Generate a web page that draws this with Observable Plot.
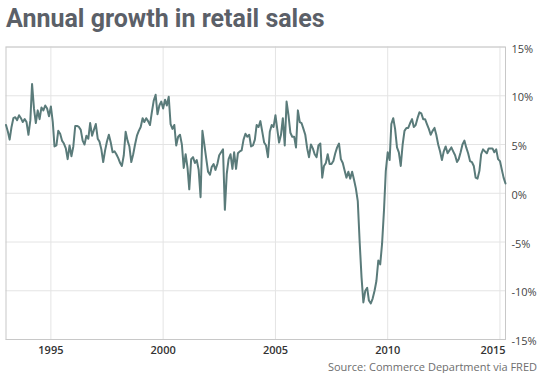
<!DOCTYPE html>
<html><head><meta charset="utf-8">
<script src="https://cdn.jsdelivr.net/npm/d3@7"></script>
<script src="https://cdn.jsdelivr.net/npm/@observablehq/plot@0.6"></script>
<style>
body{margin:0;background:#fff;width:550px;height:373px;overflow:hidden;font-family:"Open Sans",sans-serif}
#title{height:38px;line-height:38px;font-family:Roboto,sans-serif;font-weight:700;font-size:25px;color:#5b6068;padding-left:6px;white-space:nowrap}
#chart svg{display:block}
#caption{height:13px;line-height:13px;font-size:11px;color:#6e6e6e;text-align:right;padding-right:13px;white-space:nowrap}
</style></head><body>
<div id="title">Annual growth in retail sales</div>
<div id="chart"></div>
<div id="caption">Source: Commerce Department via FRED</div>
<script>
// Monthly year-over-year growth (%), starting January 1993
const startYear = 1993;
const growth1993to2000 = [
  7.0, 6.3, 5.5, 6.8, 7.7, 7.8, 7.5, 8.0, 7.7, 7.3, 7.6, 7.3,
  6.0, 7.5, 11.2, 8.7, 7.2, 8.5, 7.6, 8.8, 8.5, 9.0, 8.7, 7.9,
  8.9, 7.3, 4.8, 4.9, 6.4, 6.1, 5.4, 5.1, 4.6, 3.5, 4.9, 3.8,
  4.8, 6.9, 6.9, 6.8, 6.5, 5.4, 5.0, 5.9, 5.6, 7.2, 5.9, 6.5,
  7.1, 5.6, 5.3, 4.5, 3.2, 4.4, 5.3, 6.0, 5.2, 4.2, 4.3, 4.0,
  3.6, 3.1, 2.8, 3.9, 6.3, 5.4, 4.8, 3.2, 4.0, 5.0, 5.9, 6.4,
  6.8, 7.7, 7.3, 7.7, 7.4, 7.0, 8.3, 9.5, 10.1, 8.1, 9.0, 9.4,
  8.7, 9.6, 9.0, 9.9, 7.1, 6.6, 7.0, 4.9, 5.8, 6.0, 5.0, 2.6
];
const growth2001to2008 = [
  4.0, 2.6, 0.4, 3.5, 3.7, 3.1, 3.4, 2.4, -0.4, 6.4, 5.0, 3.6,
  2.2, 1.9, 2.7, 3.0, 2.4, 3.0, 3.9, 4.2, 4.5, -1.7, 2.0, 3.5,
  4.0, 2.5, 4.2, 2.5, 4.1, 4.3, 4.4, 5.5, 6.1, 5.8, 6.0, 4.8,
  4.9, 5.5, 7.0, 6.8, 7.4, 6.3, 5.2, 4.9, 3.7, 6.3, 7.0, 6.8,
  8.0, 6.5, 5.2, 6.0, 7.7, 4.9, 9.4, 8.0, 6.2, 5.8, 5.8, 4.7,
  8.5, 7.3, 7.2, 6.6, 6.0, 4.6, 3.7, 5.0, 4.6, 4.0, 3.7, 4.9,
  5.1, 1.6, 2.8, 3.1, 4.0, 3.0, 3.0, 3.3, 4.1, 4.7, 5.1, 3.5,
  3.1, 2.3, 1.6, 2.2, 1.5, 2.2, 1.4, 0.5, -0.8, -4.9, -8.6, -11.2
];
const growth2009to2015 = [
  -10.0, -9.7, -11.0, -11.3, -10.8, -10.0, -9.0, -6.9, -7.3, -5.2, -1.8, 2.3,
  4.2, 3.4, 7.1, 7.7, 6.6, 4.7, 4.2, 2.8, 5.0, 6.4, 6.7, 6.7,
  7.2, 7.6, 6.8, 7.0, 7.7, 8.3, 8.2, 7.6, 7.6, 7.1, 6.6, 6.0,
  6.4, 6.7, 6.0, 5.0, 4.3, 3.4, 4.3, 4.8, 4.1, 4.4, 4.7, 4.3,
  3.9, 3.2, 3.5, 4.2, 5.0, 5.4, 4.7, 4.1, 3.3, 3.2, 2.8, 1.6,
  1.5, 2.3, 4.0, 4.5, 4.3, 4.1, 4.6, 4.6, 4.6, 4.2, 4.5, 3.5,
  3.3, 2.4, 1.6, 1.0
];
const xTickYears = [1995, 2000, 2005, 2010, 2015];
const yTicks = [-15, -10, -5, 0, 5, 10, 15];

const values = [...growth1993to2000, ...growth2001to2008, ...growth2009to2015];
const data = values.map((v, i) => ({date: new Date(Date.UTC(startYear, i, 1)), value: v}));
const xTicks = xTickYears.map(y => new Date(Date.UTC(y, 0, 1)));

const chart = Plot.plot({
  width: 550,
  height: 322,
  marginTop: 8.5,
  marginBottom: 21,
  marginLeft: 5.5,
  marginRight: 45,
  style: {fontFamily: "'Open Sans', sans-serif", fontSize: "11px", background: "#fff"},
  x: {type: "utc", domain: [data[0].date, data[data.length - 1].date], label: null},
  y: {domain: [-15, 15], label: null},
  marks: [
    Plot.ruleY(yTicks, {stroke: "#e4e4e4", strokeWidth: 1}),
    Plot.ruleX(xTicks, {stroke: "#e4e4e4", strokeWidth: 1}),
    Plot.frame({stroke: "#c8c8c8"}),
    Plot.line(data, {x: "date", y: "value", stroke: "#5a7b7a", strokeWidth: 2, curve: "linear"}),
    Plot.axisY(yTicks, {anchor: "right", tickSize: 0, tickPadding: 6, dy: 2,
      tickFormat: d => d + "%", fill: "#444", fontSize: 11}),
    Plot.axisX(xTicks.slice(0, 4), {anchor: "bottom", tickSize: 0, tickPadding: 7,
      tickFormat: d3.utcFormat("%Y"), fill: "#333", fontWeight: 600, fontSize: 11}),
    Plot.axisX(xTicks.slice(4), {anchor: "bottom", tickSize: 0, tickPadding: 7, dx: -7,
      tickFormat: d3.utcFormat("%Y"), fill: "#333", fontWeight: 600, fontSize: 11})
  ]
});
document.getElementById("chart").appendChild(chart);
</script>
</body></html>
